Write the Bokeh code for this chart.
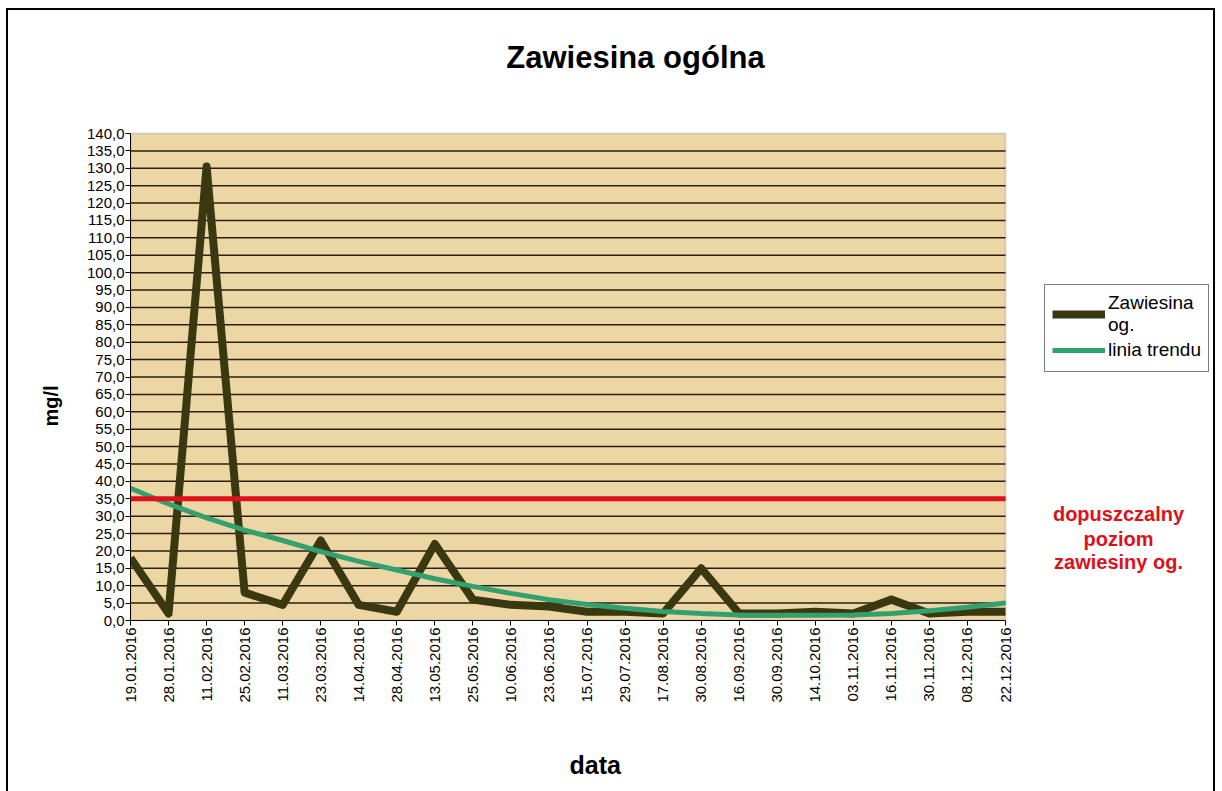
import math
from bokeh.plotting import figure
from bokeh.models import (Range1d, FixedTicker, Label, Legend, LegendItem, Title,
                          BoxAnnotation)
from bokeh.embed import file_html
from bokeh.resources import INLINE

# ---- data ----
dates = ["19.01.2016", "28.01.2016", "11.02.2016", "25.02.2016", "11.03.2016",
         "23.03.2016", "14.04.2016", "28.04.2016", "13.05.2016", "25.05.2016",
         "10.06.2016", "23.06.2016", "15.07.2016", "29.07.2016", "17.08.2016",
         "30.08.2016", "16.09.2016", "30.09.2016", "14.10.2016", "03.11.2016",
         "16.11.2016", "30.11.2016", "08.12.2016", "22.12.2016"]
zawiesina = [18.0, 2.0, 130.5, 8.0, 4.5, 23.0, 4.5, 2.5, 22.0, 6.0,
             4.5, 4.0, 2.5, 2.5, 2.0, 15.0, 2.0, 2.0, 2.5, 2.0,
             6.0, 2.0, 2.5, 2.5]
trend = [38.0, 33.5, 29.5, 26.0, 23.0, 19.8, 17.0, 14.5, 12.0, 9.8,
         7.8, 6.0, 4.6, 3.5, 2.6, 2.0, 1.6, 1.5, 1.5, 1.6,
         2.0, 2.8, 3.8, 5.0]
limit = 35.0
y_ticks = list(range(0, 141, 5))

x = list(range(len(dates)))
x_last = len(dates) - 1
y_top = y_ticks[-1]

FONT = "Liberation Sans"

# layout (pixels): the plot area is 875 x 487 px; the frame is extended to the
# right and to the top so that legend, note and title can live inside the frame
PLOT_W, PLOT_H = 875, 487
FRAME_W, FRAME_H = 1083, 610
x_end = x_last * FRAME_W / PLOT_W
y_end = y_top * FRAME_H / PLOT_H

p = figure(width=1209, height=783, output_backend="svg", toolbar_location=None,
           title_location=None,
           x_range=Range1d(0, x_end), y_range=Range1d(0, y_end),
           min_border_left=122, min_border_right=4, min_border_top=0,
           min_border_bottom=173)
p.styles = {"margin-left": "6px", "margin-top": "8px",
            "border-left": "2px solid #000", "border-top": "2px solid #000",
            "border-right": "2px solid #000", "box-sizing": "border-box"}

p.background_fill_color = "white"
p.border_fill_color = "white"
p.outline_line_color = None
p.grid.visible = False

# plot area
p.add_layout(BoxAnnotation(left=0, right=x_last, bottom=0, top=y_top,
                           fill_color="#ECD6A3", fill_alpha=1.0,
                           line_color="#8c8c8c", line_width=2, level="underlay"))
inner = y_ticks[1:-1]
p.segment(x0=[0] * len(inner), y0=inner, x1=[x_last] * len(inner), y1=inner,
          line_color="#2a1f14", line_width=1.5)

# axes
p.yaxis.ticker = FixedTicker(ticks=y_ticks)
p.yaxis.bounds = (0, y_top)
p.yaxis.major_label_overrides = {v: f"{v},0" for v in y_ticks}
p.yaxis.major_tick_out = 5
p.yaxis.major_tick_in = 0
p.yaxis.minor_tick_line_color = None
p.yaxis.major_label_standoff = 1
p.yaxis.major_label_text_font = FONT
p.yaxis.major_label_text_font_size = "15px"
p.yaxis.major_label_text_color = "black"
p.yaxis.axis_line_color = "black"

p.xaxis.ticker = FixedTicker(ticks=x)
p.xaxis.bounds = (0, x_last)
p.xaxis.major_label_overrides = {i: d for i, d in zip(x, dates)}
p.xaxis.major_label_orientation = math.pi / 2
p.xaxis.major_tick_out = 5
p.xaxis.major_tick_in = 0
p.xaxis.minor_tick_line_color = None
p.xaxis.major_label_standoff = 2
p.xaxis.major_label_text_font = FONT
p.xaxis.major_label_text_font_size = "15px"
p.xaxis.major_label_text_color = "black"
p.xaxis.axis_line_color = "black"

# series
r_data = p.line(x, zawiesina, line_color="#3A3810", line_width=8, line_join="round")
r_trend = p.line(x, trend, line_color="#33A070", line_width=5)
p.line([0, x_last], [limit, limit], line_color="#E0101A", line_width=5)

# title
p.add_layout(Label(x=505, y=563, x_units="screen", y_units="screen",
                   text="Zawiesina ogólna", text_font=FONT, text_font_size="31px",
                   text_font_style="bold", text_color="black",
                   text_align="center", text_baseline="middle"))
p.add_layout(Title(text="mg/l", align="left", offset=194, standoff=44,
                   text_font=FONT, text_font_size="20px", text_font_style="bold",
                   text_color="black"), "left")
# x axis title: a blank spacer below the tick labels, then "data"
p.add_layout(Title(text=" ", standoff=30, text_font=FONT, text_font_size="10px"),
             "below")
p.add_layout(Title(text="data", align="left", offset=439, standoff=0,
                   text_font=FONT, text_font_size="25px", text_font_style="bold",
                   text_color="black"), "below")

# red note
for txt, yy in [("dopuszczalny", 107), ("poziom", 82), ("zawiesiny og.", 59)]:
    p.add_layout(Label(x=988, y=yy, x_units="screen", y_units="screen",
                       text=txt, text_font=FONT, text_font_size="20px",
                       text_font_style="bold", text_color="#E0101A",
                       text_align="center", text_baseline="middle"))

legend = Legend(items=[LegendItem(label="Zawiesina\nog.", renderers=[r_data]),
                       LegendItem(label="linia trendu", renderers=[r_trend])],
                location=(914, 248), padding=7, spacing=0, glyph_width=53,
                glyph_height=28, label_standoff=3, label_text_font=FONT,
                label_text_font_size="19px", label_text_line_height=1.0,
                label_text_color="black", border_line_color="black",
                border_line_width=1, background_fill_color="white",
                background_fill_alpha=1.0, margin=0)
p.add_layout(legend, "center")

open("out.html", "w").write(file_html(p, INLINE))
